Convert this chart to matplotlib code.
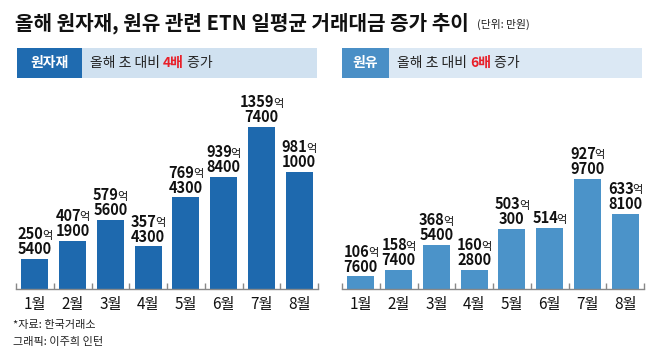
import matplotlib
matplotlib.use("Agg")
import matplotlib.pyplot as plt
from matplotlib.patches import Rectangle

plt.rcParams['font.family'] = ['Noto Sans CJK KR', 'DejaVu Sans']

# 일평균 거래대금 (단위: 만원)
months = ['1월', '2월', '3월', '4월', '5월', '6월', '7월', '8월']
commodity = [2505400, 4071900, 5795600, 3574300, 7694300, 9398400, 13597400, 9811000]
crude = [1067600, 1587400, 3685400, 1602800, 5030300, 5140000, 9279700, 6338100]

title = '올해 원자재, 원유 관련 ETN 일평균 거래대금 증가 추이'
unit = '(단위: 만원)'
panels = [
    ('원자재', '4배', commodity, '#1e69ae', '#1f6bb0', '#d0e1f0'),
    ('원유', '6배', crude, '#4b93c9', '#4a8fc6', '#dbe8f4'),
]

W, H = 660, 362
fig = plt.figure(figsize=(W / 100, H / 100), dpi=100)
bg = fig.add_axes([0, 0, 1, 1])
bg.set_xlim(0, W)
bg.set_ylim(H, 0)
bg.axis('off')
renderer = fig.canvas.get_renderer()


def width_px(t):
    return t.get_window_extent(renderer).width


def runs(x, y, parts):
    # 텍스트 조각을 왼쪽부터 이어 붙이기
    for s, kw in parts:
        t = bg.text(x, y, s, ha='left', va='center', **kw)
        x += width_px(t)
    return x


# 제목
x_end = runs(15, 23, [(title, dict(fontsize=14.5, fontweight=900, color='#111111'))])
runs(x_end + 8, 24.5, [(unit, dict(fontsize=7.8, color='#222222'))])

ymax = 16000000
for k, (name, mult, vals, bar_c, box_c, light_c) in enumerate(panels):
    x0 = 17 if k == 0 else 342
    box_w = 65 if k == 0 else 47
    bg.add_patch(Rectangle((x0, 48), 300, 30, color=light_c, lw=0))
    bg.add_patch(Rectangle((x0, 48), box_w, 30, color=box_c, lw=0))
    bg.text(x0 + box_w / 2, 63, name, ha='center', va='center', color='white',
            fontsize=10, fontweight='bold')
    runs(x0 + box_w + 8, 63, [
        ('올해 초 대비 ', dict(fontsize=10, color='#222222')),
        (mult, dict(fontsize=10, color='#e8202a', fontweight='bold')),
        (' 증가', dict(fontsize=10, color='#222222')),
    ])

    # 막대 그래프
    ax_left = 16 if k == 0 else 342
    ax = fig.add_axes([ax_left / W, (H - 289) / H, 302 / W, 190.5 / H])
    pos = list(range(len(months)))
    ax.bar(pos, vals, width=0.72, color=bar_c)
    ax.set_xlim(-0.5, len(months) - 0.5)
    ax.set_ylim(0, ymax)
    for s in ['top', 'right', 'left']:
        ax.spines[s].set_visible(False)
    ax.spines['bottom'].set_color('#888888')
    ax.spines['bottom'].set_linewidth(1)
    ax.patch.set_alpha(0)
    ax.set_yticks([])
    ax.set_xticks([p - 0.5 for p in pos] + [len(months) - 0.5])
    ax.set_xticklabels([])
    ax.tick_params(axis='x', direction='in', length=4, color='#888888', width=1)
    for p, m in zip(pos, months):
        ax.annotate(m, xy=(p, 0), xytext=(0, -11), textcoords='offset points',
                    ha='center', va='center', fontsize=11, color='#111111')

    # 값 레이블: 억 / 만
    for p, v in zip(pos, vals):
        eok, man = divmod(v, 10000)
        base = 3.4
        if man:
            ax.annotate(str(man), xy=(p, v), xytext=(0, base), textcoords='offset points',
                        ha='center', va='baseline', fontsize=10.5, fontweight=900,
                        color='#111111')
            base += 10.8
        t_num = ax.text(0, 0, str(eok), fontsize=10.5, fontweight=900)
        t_eok = ax.text(0, 0, '억', fontsize=8)
        wn, we = width_px(t_num) - 1.5, width_px(t_eok)
        t_num.remove()
        t_eok.remove()
        left = -(wn + we) / 2 * 0.72
        ax.annotate(str(eok), xy=(p, v), xytext=(left, base), textcoords='offset points',
                    ha='left', va='baseline', fontsize=10.5, fontweight=900,
                    color='#111111')
        ax.annotate('억', xy=(p, v), xytext=(left + wn * 0.72, base + 0.3),
                    textcoords='offset points', ha='left', va='baseline', fontsize=8,
                    color='#111111')

# 출처
bg.text(13, 325, '*자료: 한국거래소', ha='left', va='center', fontsize=8, color='#222222')
bg.text(13, 342, '그래픽: 이주희 인턴', ha='left', va='center', fontsize=8, color='#222222')

fig.savefig('out.png', dpi=100)
